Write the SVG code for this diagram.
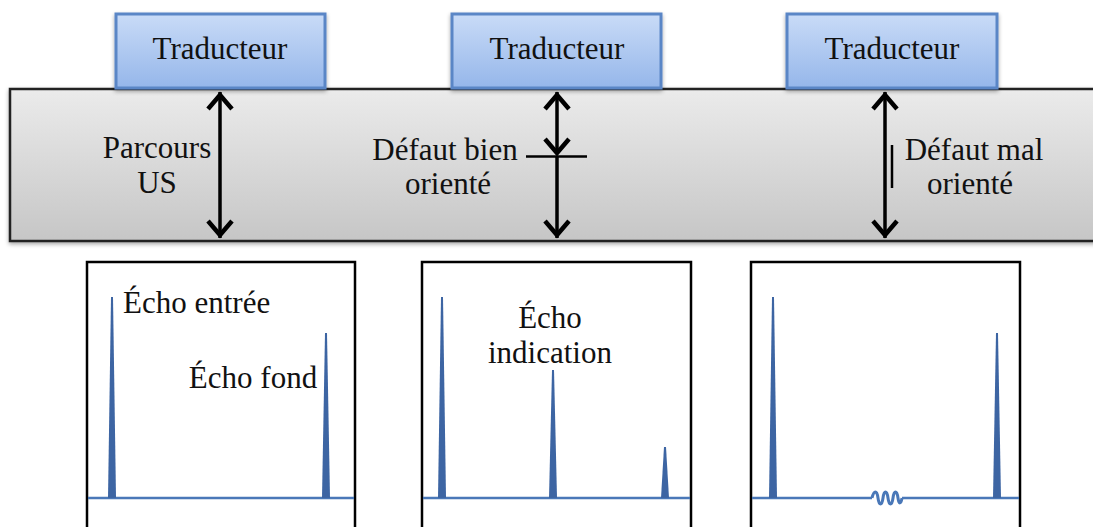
<svg xmlns="http://www.w3.org/2000/svg" width="1093" height="527" viewBox="0 0 1093 527">
<style>
.t{font-family:"Liberation Serif","Times New Roman",serif;font-size:31px;fill:#111}
.box{fill:url(#gb);stroke:#5a86c6;stroke-width:3}
.arr{stroke:#000;stroke-width:3.5;fill:none}
.head{stroke:#000;stroke-width:4.5;fill:none;stroke-linecap:butt;stroke-linejoin:miter}
.panel{fill:#fff;stroke:#000;stroke-width:2.5}
.base{stroke:#4a78b8;stroke-width:2.5;fill:none}
.peak{fill:#3d65a3}
</style>
<defs>
<linearGradient id="gb" x1="0" y1="0" x2="0" y2="1">
<stop offset="0" stop-color="#c9dbf7"/>
<stop offset="1" stop-color="#95b6ea"/>
</linearGradient>
<linearGradient id="gg" x1="0" y1="0" x2="0" y2="1">
<stop offset="0" stop-color="#ebebeb"/>
<stop offset="1" stop-color="#c6c6c6"/>
</linearGradient>
<filter id="sh" x="-5%" y="-10%" width="110%" height="130%">
<feGaussianBlur in="SourceAlpha" stdDeviation="2"/>
<feOffset dx="0" dy="2" result="b"/>
<feComponentTransfer><feFuncA type="linear" slope="0.35"/></feComponentTransfer>
<feMerge><feMergeNode/><feMergeNode in="SourceGraphic"/></feMerge>
</filter>
</defs>
<rect width="1093" height="527" fill="#fff"/>

<g id="bar">
<rect x="10" y="89" width="1090" height="152" fill="url(#gg)" stroke="#222" stroke-width="2.5" filter="url(#sh)"/>
</g>

<g id="trad1"><rect class="box" x="116" y="14" width="209" height="74" filter="url(#sh)"/><text class="t" x="220" y="59" text-anchor="middle">Traducteur</text></g>
<g id="trad2"><rect class="box" x="452" y="14" width="209" height="74" filter="url(#sh)"/><text class="t" x="557" y="59" text-anchor="middle">Traducteur</text></g>
<g id="trad3"><rect class="box" x="787" y="14" width="210" height="74" filter="url(#sh)"/><text class="t" x="892" y="59" text-anchor="middle">Traducteur</text></g>

<g id="connectors">
<line class="arr" x1="220" y1="92" x2="220" y2="238"/>
<polyline class="head" points="208,109 220,95 232,109"/>
<polyline class="head" points="208,221 220,235 232,221"/>

<line class="arr" x1="557" y1="92" x2="557" y2="154"/>
<polyline class="head" points="545,109 557,95 569,109"/>
<polyline class="head" points="545,139 557,153 569,139"/>
<line class="arr" x1="557" y1="156" x2="557" y2="238" stroke-width="3"/>
<polyline class="head" points="545,221 557,235 569,221"/>
<line x1="526" y1="156.5" x2="587" y2="156.5" stroke="#000" stroke-width="2.5"/>

<line class="arr" x1="885" y1="92" x2="885" y2="238"/>
<polyline class="head" points="873,109 885,95 897,109"/>
<polyline class="head" points="873,221 885,235 897,221"/>
<line x1="892" y1="145" x2="892" y2="188" stroke="#000" stroke-width="2.5"/>
</g>

<g id="labels">
<text class="t" x="157" y="158" text-anchor="middle">Parcours</text>
<text class="t" x="157" y="193" text-anchor="middle">US</text>
<text class="t" x="445" y="160" text-anchor="middle">Défaut bien</text>
<text class="t" x="448" y="194" text-anchor="middle">orienté</text>
<text class="t" x="974" y="160" text-anchor="middle">Défaut mal</text>
<text class="t" x="970" y="194" text-anchor="middle">orienté</text>
</g>

<g id="panel1">
<rect class="panel" x="87" y="262" width="268" height="280"/>
<line class="base" x1="88" y1="498" x2="354" y2="498"/>
<polygon class="peak" points="108,498 111,297 113,297 116,498"/>
<polygon class="peak" points="322,498 325,333 327,333 330,498"/>
<text class="t" x="123" y="313">Écho entrée</text>
<text class="t" x="253" y="388" text-anchor="middle">Écho fond</text>
</g>

<g id="panel2">
<rect class="panel" x="422" y="262" width="269" height="280"/>
<line class="base" x1="423" y1="498" x2="690" y2="498"/>
<polygon class="peak" points="438,498 441,297 443,297 446,498"/>
<polygon class="peak" points="549,498 552,370 554,370 557,498"/>
<polygon class="peak" points="661,498 664,447 666,447 669,498"/>
<text class="t" x="550" y="328" text-anchor="middle">Écho</text>
<text class="t" x="550" y="363" text-anchor="middle">indication</text>
</g>

<g id="panel3">
<rect class="panel" x="751" y="262" width="269" height="280"/>
<line class="base" x1="752" y1="498" x2="872" y2="498"/>
<line class="base" x1="902" y1="498" x2="1019" y2="498"/>
<path d="M872,498 C874,490 877,490 878,498 C879,506 882,506 883,498 C884,490 887,490 888,498 C889,506 892,506 893,498 C894,490 897,490 898,498 C899,505 901,504 902,498" stroke="#4a78b8" stroke-width="3" fill="none"/>
<polygon class="peak" points="769,498 772,297 774,297 777,498"/>
<polygon class="peak" points="993,498 996,333 998,333 1001,498"/>
</g>
</svg>
